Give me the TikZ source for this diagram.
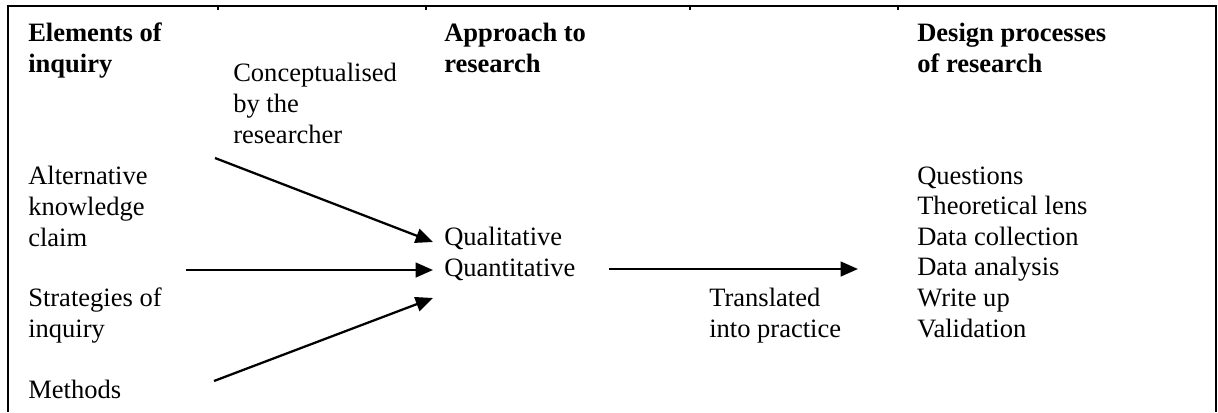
\documentclass[tikz,border=0pt]{standalone}
\usepackage{fontspec}
\setmainfont{Liberation Serif}
\usetikzlibrary{arrows.meta}
\begin{document}
\begin{tikzpicture}[x=0.75pt,y=-0.75pt,
  txt/.style={anchor=base west,inner sep=0pt,align=left,font=\fontsize{19.9}{22.9}\selectfont},
  hd/.style={txt,font=\fontsize{19.9}{22.9}\selectfont\bfseries},
  arr/.style={line width=1.7pt,-{Triangle[length=13pt,width=11pt]}},
  frame/.style={line width=1.6pt},
  tick/.style={line width=0.8pt}]
\useasboundingbox (0,0) rectangle (1218,412);
% frame
\coordinate (bl) at (8,412);
\coordinate (tl) at (8,6);
\coordinate (tr) at (1216,6);
\coordinate (br) at (1216,412);
\draw[frame] (bl) -- (tl) -- (tr) -- (br);
\foreach \x in {218,426,690,898}{
  \draw[tick] (\x,6) -- (\x,10);
}
% headers (anchored at the baseline of the last line)
\node[hd] (h1) at (28,72) {Elements of\\inquiry};
\node[hd] (h2) at (444,72) {Approach to\\research};
\node[hd] (h3) at (917,72) {Design processes\\of research};
\node[txt] (concept) at (233,143) {Conceptualised\\by the\\researcher};
% left column
\node[txt] (akc) at (28,246) {Alternative\\knowledge\\claim};
\node[txt] (soi) at (28,337) {Strategies of\\inquiry};
\node[txt] (meth) at (28,398) {Methods};
% middle
\node[txt] (qual) at (444,276) {Qualitative\\Quantitative};
\node[txt] (trans) at (709,337) {Translated\\into practice};
% right
\node[txt] (design) at (917,337) {Questions\\Theoretical lens\\Data collection\\Data analysis\\Write up\\Validation};
% arrows
\coordinate (a1s) at (215,158);
\coordinate (a1e) at (433,242);
\coordinate (a2s) at (186,270);
\coordinate (a2e) at (433,270);
\coordinate (a3s) at (214,381);
\coordinate (a3e) at (433,298);
\coordinate (a4s) at (609,269);
\coordinate (a4e) at (858,269);
\draw[arr] (a1s) -- (a1e);
\draw[arr] (a2s) -- (a2e);
\draw[arr] (a3s) -- (a3e);
\draw[arr] (a4s) -- (a4e);
\end{tikzpicture}
\end{document}
